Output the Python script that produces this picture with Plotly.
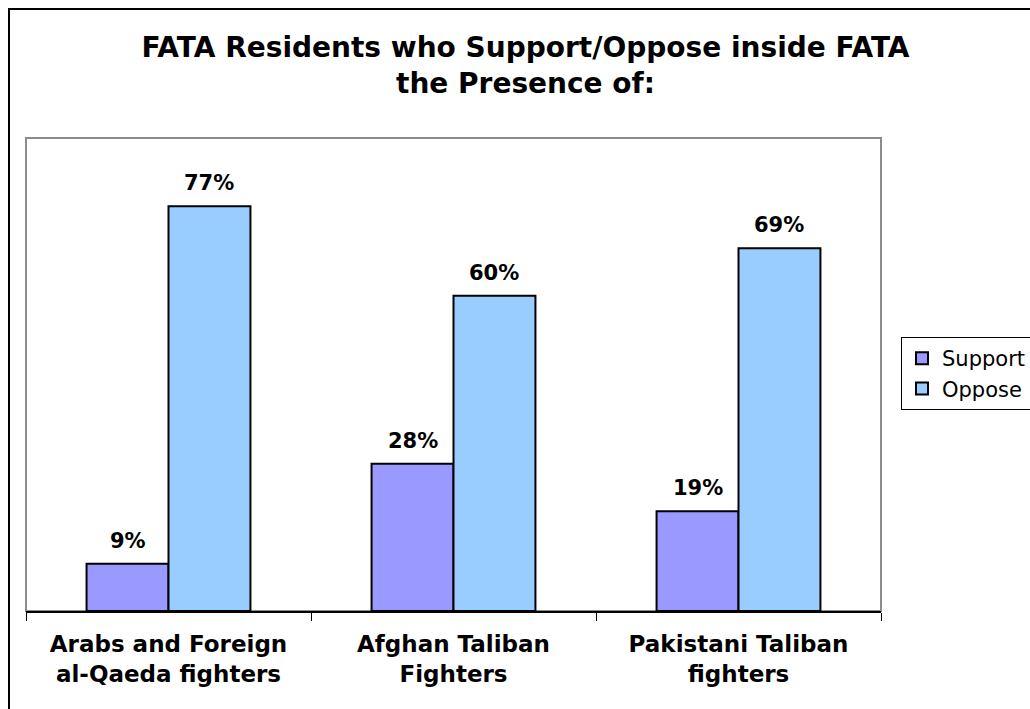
import plotly.graph_objects as go

categories = ["Arabs and Foreign<br>al-Qaeda fighters", "Afghan Taliban<br>Fighters", "Pakistani Taliban<br>fighters"]
support = [9, 28, 19]
oppose = [77, 60, 69]
series_names = ["Support", "Oppose"]
title_text = "FATA Residents who Support/Oppose inside FATA<br>the Presence of:"

W, H = 1030, 709
L, R, T, B = 26, 149, 138, 98
pw, ph = W - L - R, H - T - B

def px_to_paper_x(px):
    return (px - L) / pw

def py_to_paper_y(py):
    return (H - B - py) / ph

fig = go.Figure()
fig.add_trace(go.Bar(name=series_names[0], x=categories, y=support,
                     marker=dict(color="#9999FF", line=dict(color="black", width=2))))
fig.add_trace(go.Bar(name=series_names[1], x=categories, y=oppose,
                     marker=dict(color="#99CCFF", line=dict(color="black", width=2))))

bargap = 0.425
bw = (1 - bargap) / 2
label_font = dict(family="DejaVu Sans", size=21, color="black", weight="bold")
annotations = []
for i in range(len(categories)):
    for vals, off in ((support, -bw / 2), (oppose, bw / 2)):
        annotations.append(dict(x=i + off, y=vals[i], xref="x", yref="y",
                                text=f"{vals[i]}%", showarrow=False,
                                yanchor="bottom", yshift=9, font=label_font))

fig.update_layout(
    width=W, height=H,
    margin=dict(l=L, r=R, t=T, b=B, pad=0, autoexpand=False),
    paper_bgcolor="white", plot_bgcolor="white",
    barmode="group", bargap=bargap, bargroupgap=0,
    title=dict(text=title_text, x=525.5 / W, xanchor="center", xref="container",
               y=1 - 57 / H, yanchor="top", yref="container",
               font=dict(family="DejaVu Sans", size=28, color="black", weight="bold")),
    xaxis=dict(showline=True, linecolor="black", linewidth=2, ticks="outside",
               tickson="boundaries", ticklen=8, tickcolor="black", tickwidth=1,
               showgrid=False, zeroline=False, ticklabelstandoff=11,
               tickfont=dict(family="DejaVu Sans", size=23, color="black", weight="bold")),
    yaxis=dict(range=[0, 90], showticklabels=False, showgrid=False, zeroline=False,
               showline=False, ticks=""),
    legend=dict(x=px_to_paper_x(901), y=py_to_paper_y(337), xanchor="left", yanchor="top",
                bordercolor="black", borderwidth=1, bgcolor="white",
                font=dict(family="DejaVu Sans", size=21, color="black"),
                tracegroupgap=0, itemwidth=30),
    annotations=annotations,
    shapes=[
        dict(type="rect", xref="paper", yref="paper", x0=0, x1=1, y0=0, y1=1,
             line=dict(color="#8c8c8c", width=2), layer="below"),
        dict(type="rect", xref="paper", yref="paper",
             x0=px_to_paper_x(9), x1=px_to_paper_x(1045),
             y0=py_to_paper_y(725), y1=py_to_paper_y(9),
             line=dict(color="black", width=2), layer="above"),
    ],
    showlegend=True,
)

fig.write_html("out.html", config={"displayModeBar": False},
               post_script="document.body.style.margin='0';document.body.style.overflow='hidden';")
